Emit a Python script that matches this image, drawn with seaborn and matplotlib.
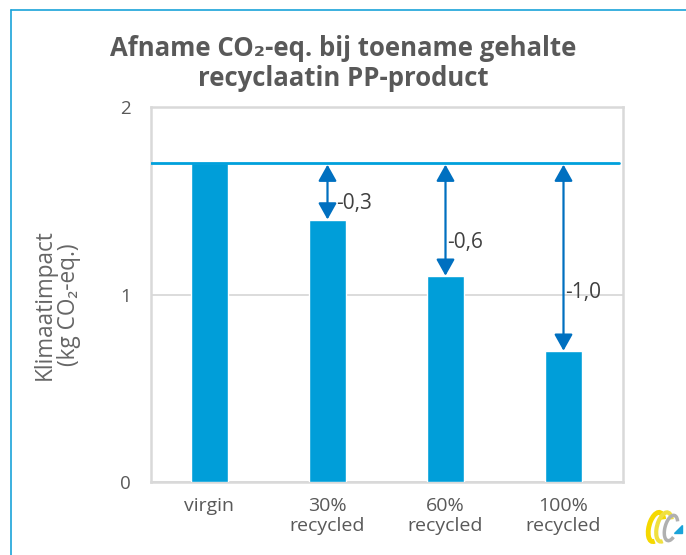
import matplotlib
matplotlib.use("Agg")
import matplotlib.pyplot as plt
from matplotlib.lines import Line2D
from matplotlib.patches import Arc, Polygon
import seaborn as sns

categories = ["virgin", "30%\nrecycled", "60%\nrecycled", "100%\nrecycled"]
values = [1.7, 1.4, 1.1, 0.7]
baseline = 1.7
yticks = [0, 1, 2]
title_lines = ["Afname CO\u2082-eq. bij toename gehalte", "recyclaatin PP-product"]
ylabel = "Klimaatimpact\n(kg CO\u2082-eq.)"

# layout helpers (label placement)
label_y = [1.488, 1.275, 1.013]
label_dx = [0.075, 0.01, 0.015]

sns.set_style("white")
plt.rcParams["font.family"] = ["Open Sans", "DejaVu Sans"]

GRAY = "#595959"
BAR = "#009ED9"
LINE = "#00A0DC"
ARROW = "#0070C0"
GRID = "#D9D9D9"

fig = plt.figure(figsize=(6.86, 5.55), dpi=100)
ax = fig.add_axes([150.5 / 686, 73 / 555, 472 / 686, 375 / 555])

sns.barplot(x=categories, y=values, color=BAR, saturation=1, width=0.31, ax=ax, zorder=3)

ax.set_ylim(0, 2)
ax.set_xlim(-0.5, 3.5)
ax.set_yticks(yticks)
ax.set_yticklabels([str(t) for t in yticks])
ax.tick_params(axis="y", length=0, pad=14, labelsize=13.5, labelcolor=GRAY)
ax.tick_params(axis="x", length=0, pad=11, labelsize=14, labelcolor=GRAY)
for lbl in ax.get_xticklabels():
    lbl.set_linespacing(1.15)
ax.set_xlabel("")
ax.set_ylabel("")
for y in yticks:
    ax.axhline(y, color=GRID, lw=1.3, zorder=1)
for s in ax.spines.values():
    s.set_color(GRID)
    s.set_linewidth(1.8)

ax.axhline(baseline, xmin=0, xmax=0.992, color=LINE, lw=2, zorder=4)

for i, v in enumerate(values[1:], start=1):
    ax.annotate("", xy=(i, v), xytext=(i, baseline),
                arrowprops=dict(arrowstyle="<|-|>,head_length=0.5,head_width=0.28",
                                color=ARROW, lw=1.6, shrinkA=1, shrinkB=0,
                                mutation_scale=20), zorder=5)
    diff = v - baseline
    txt = f"{diff:.1f}".replace(".", ",")
    ax.text(i + label_dx[i - 1], label_y[i - 1], txt, ha="left", va="center",
            fontsize=15, color="#404040", zorder=6)

fig.text(0.5, 1 - 49 / 555, title_lines[0], ha="center", va="center",
         fontsize=18.5, fontweight="bold", color=GRAY)
fig.text(0.5, 1 - 79 / 555, title_lines[1], ha="center", va="center",
         fontsize=18.5, fontweight="bold", color=GRAY)
fig.text(57 / 686, 1 - 305 / 555, ylabel, rotation=90, ha="center", va="center",
         fontsize=16.3, color="#666666", multialignment="center", linespacing=1.0)

# frame lines around slide
bc = "#1AA3D9"
fig.add_artist(Line2D([10.5 / 686, 10.5 / 686], [0, 1 - 10 / 555], color=bc, lw=1.2))
fig.add_artist(Line2D([10.5 / 686, 1], [1 - 10 / 555, 1 - 10 / 555], color=bc, lw=1.2))

# small logo
lax = fig.add_axes([644 / 686, 8 / 555, 40 / 686, 40 / 555])
lax.set_xlim(0, 40)
lax.set_ylim(0, 40)
lax.set_aspect("equal")
lax.axis("off")
lax.add_patch(Arc((12, 20), 14, 30, angle=-15, theta1=60, theta2=280, color="#F5D800", lw=3.5))
lax.add_patch(Arc((20, 20), 14, 30, angle=-15, theta1=60, theta2=280, color="#F0E040", lw=3))
lax.add_patch(Arc((27, 19), 12, 26, angle=-15, theta1=60, theta2=300, color="#B0B0B0", lw=2.5))
lax.add_patch(Polygon([[30, 14], [38, 14], [38, 22]], closed=True, color="#1AA3D9"))

fig.savefig("out.png", dpi=100)
